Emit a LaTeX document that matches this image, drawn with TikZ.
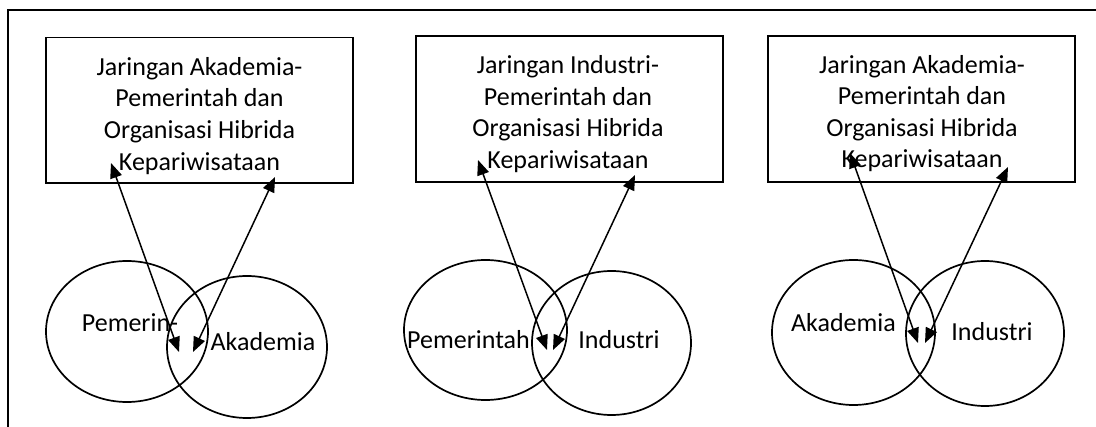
\documentclass[tikz,border=0pt]{standalone}
\usepackage{fontspec}
\setmainfont{Carlito}
\usetikzlibrary{shapes.geometric,arrows.meta}
\begin{document}
\begin{tikzpicture}[x=1pt,y=-1pt,
  netbox/.style={draw,line width=1.7pt,rectangle,inner sep=0pt},
  boxtext/.style={align=center,inner sep=0pt,font=\fontsize{26}{31.6}\selectfont},
  sector/.style={draw,line width=1.7pt,ellipse,inner sep=0pt},
  label/.style={inner sep=0pt,font=\fontsize{26}{31.6}\selectfont},
  link/.style={line width=1.5pt,{Triangle[length=15pt,width=12pt]}-{Triangle[length=15pt,width=12pt]}}]
\useasboundingbox (0,0) rectangle (1096,427);
% outer frame (only its top and left edges fall on the page)
\coordinate (fb) at (8,440);
\coordinate (fc) at (8,10);
\coordinate (fr) at (1110,10);
\draw[line width=1.8pt] (fb) -- (fc) -- (fr);

% ---------- first group: academia and government ----------
\node[netbox,minimum width=307pt,minimum height=145.5pt] (b1) at (199.3,110.4) {};
\node[boxtext] (t1) at (199.5,115.8) {Jaringan Akademia-\\Pemerintah dan\\Organisasi Hibrida\\Kepariwisataan};
\node[sector,minimum width=162pt,minimum height=141pt] (e1a) at (127,331.5) {};
\node[sector,minimum width=160pt,minimum height=142pt] (e1b) at (247,347) {};
\node[label] (l1a) at (130,323) {Pemerin-};
\node[label] (l1b) at (263,342) {Akademia};
\coordinate (p1a) at (111,163);
\coordinate (q1a) at (179,352);
\coordinate (p1b) at (275,177);
\coordinate (q1b) at (193,352);
\draw[link] (p1a) -- (q1a);
\draw[link] (p1b) -- (q1b);

% ---------- second group: industry and government ----------
\node[netbox,minimum width=307pt,minimum height=146pt] (b2) at (569.3,109) {};
\node[boxtext] (t2) at (568,114) {Jaringan Industri-\\Pemerintah dan\\Organisasi Hibrida\\Kepariwisataan};
\node[sector,minimum width=163pt,minimum height=140pt] (e2a) at (485.5,330) {};
\node[sector,minimum width=159pt,minimum height=144pt] (e2b) at (611.5,343) {};
\node[label] (l2a) at (468.5,340) {Pemerintah};
\node[label] (l2b) at (619,340) {Industri};
\coordinate (p2a) at (478,160);
\coordinate (q2a) at (547,350);
\coordinate (p2b) at (635,175);
\coordinate (q2b) at (553,350);
\draw[link] (p2a) -- (q2a);
\draw[link] (p2b) -- (q2b);

% ---------- third group: academia and industry ----------
\node[netbox,minimum width=307pt,minimum height=146pt] (b3) at (921.3,109) {};
\node[boxtext] (t3) at (922,113.5) {Jaringan Akademia-\\Pemerintah dan\\Organisasi Hibrida\\Kepariwisataan};
\node[sector,minimum width=163pt,minimum height=145pt] (e3a) at (853.5,332.5) {};
\node[sector,minimum width=158pt,minimum height=145pt] (e3b) at (985,333.5) {};
\node[label] (l3a) at (843.5,323) {Akademia};
\node[label] (l3b) at (992,332) {Industri};
\coordinate (p3a) at (850,153);
\coordinate (q3a) at (918,343);
\coordinate (p3b) at (1008,167);
\coordinate (q3b) at (925,343);
\draw[link] (p3a) -- (q3a);
\draw[link] (p3b) -- (q3b);
\end{tikzpicture}
\end{document}
